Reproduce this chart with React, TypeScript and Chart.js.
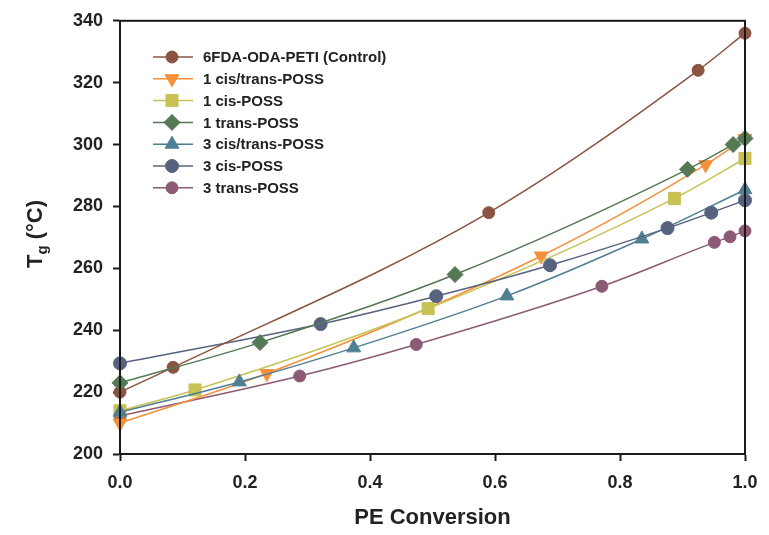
import React, { useEffect, useRef } from "react";
import { Chart, registerables } from "chart.js";

Chart.register(...registerables);

const seriesNames = [
  "6FDA-ODA-PETI (Control)",
  "1 cis/trans-POSS",
  "1 cis-POSS",
  "1 trans-POSS",
  "3 cis/trans-POSS",
  "3 cis-POSS",
  "3 trans-POSS",
];

const controlX = [0, 0.085, 0.59, 0.925, 1.0];
const controlY = [220, 228, 278, 324, 336];

const cisTrans1X = [0, 0.235, 0.674, 0.937, 1.0];
const cisTrans1Y = [210, 226, 264, 293.5, 302];

const cis1X = [0, 0.12, 0.493, 0.887, 1.0];
const cis1Y = [214, 220.7, 247, 282.6, 295.5];

const trans1X = [0, 0.224, 0.536, 0.908, 0.981, 1.0];
const trans1Y = [223, 236, 258, 292, 300, 302];

const cisTrans3X = [0, 0.191, 0.374, 0.619, 0.835, 1.0];
const cisTrans3Y = [213.5, 223.3, 234.3, 251.1, 269.5, 285.4];

const cis3X = [0, 0.321, 0.506, 0.688, 0.876, 0.946, 1.0];
const cis3Y = [229.3, 242, 251, 261, 273, 278, 282];

const trans3X = [0, 0.2875, 0.474, 0.771, 0.951, 0.976, 1.0];
const trans3Y = [212.3, 225.2, 235.4, 254.2, 268.4, 270.2, 272.1];

const xTicks = [0, 0.2, 0.4, 0.6, 0.8, 1.0];
const yTicks = [200, 220, 240, 260, 280, 300, 320, 340];

const xs = [controlX, cisTrans1X, cis1X, trans1X, cisTrans3X, cis3X, trans3X];
const ys = [controlY, cisTrans1Y, cis1Y, trans1Y, cisTrans3Y, cis3Y, trans3Y];

const colors = ["#8B5440", "#F5913A", "#C8C255", "#547954", "#4F7F93", "#56627E", "#8C5A74"];
const styles: any[] = ["circle", "triangle", "rect", "rectRot", "triangle", "circle", "circle"];
const rotations = [0, 180, 0, 0, 0, 0, 0];
const radii = [6, 8, 8.5, 8, 8, 6.5, 6];
const drawOrder = [1, 4, 3, 0, 2, 1, 5];

const FONT = "'Liberation Sans', Arial, sans-serif";

function drawMarker(ctx: CanvasRenderingContext2D, style: string, rot: number, r: number, x: number, y: number) {
  ctx.save();
  ctx.translate(x, y);
  ctx.rotate((rot * Math.PI) / 180);
  ctx.beginPath();
  if (style === "circle") {
    ctx.arc(0, 0, r, 0, Math.PI * 2);
  } else if (style === "triangle") {
    const side = (3 * r) / Math.sqrt(3);
    const height = (side * Math.sqrt(3)) / 2;
    ctx.moveTo(-side / 2, height / 3);
    ctx.lineTo(side / 2, height / 3);
    ctx.lineTo(0, (-2 * height) / 3);
    ctx.closePath();
  } else if (style === "rect") {
    const s = r * Math.SQRT1_2;
    ctx.rect(-s, -s, 2 * s, 2 * s);
  } else if (style === "rectRot") {
    ctx.moveTo(0, -r);
    ctx.lineTo(r, 0);
    ctx.lineTo(0, r);
    ctx.lineTo(-r, 0);
    ctx.closePath();
  }
  ctx.fill();
  ctx.stroke();
  ctx.restore();
}

const framePlugin = {
  id: "frame",
  afterDraw(chart: any) {
    const { ctx, chartArea } = chart;
    ctx.save();
    ctx.strokeStyle = "#1a1a1a";
    ctx.lineWidth = 2;
    ctx.strokeRect(chartArea.left, chartArea.top, chartArea.right - chartArea.left, chartArea.bottom - chartArea.top);

    // legend
    const lx1 = 153, lx2 = 193, mx = 172, tx = 203;
    const y0 = 57, dy = 21.8;
    chart.data.datasets.forEach((ds: any, i: number) => {
      const y = y0 + i * dy;
      ctx.strokeStyle = ds.borderColor;
      ctx.lineWidth = 1.5;
      ctx.beginPath();
      ctx.moveTo(lx1, y);
      ctx.lineTo(lx2, y);
      ctx.stroke();
      ctx.fillStyle = ds.pointBackgroundColor;
      ctx.strokeStyle = ds.pointBackgroundColor;
      ctx.lineWidth = 1;
      drawMarker(ctx, ds.pointStyle, ds.pointRotation, ds.pointRadius, mx, y);
      ctx.fillStyle = "#222";
      ctx.font = `bold 15px ${FONT}`;
      ctx.textAlign = "left";
      ctx.textBaseline = "middle";
      ctx.fillText(ds.label, tx, y + 1);
    });

    // y title with subscript
    ctx.fillStyle = "#222";
    ctx.translate(35, 234);
    ctx.rotate(-Math.PI / 2);
    ctx.textBaseline = "alphabetic";
    ctx.textAlign = "left";
    ctx.font = `bold 22px ${FONT}`;
    const tW = ctx.measureText("T").width;
    ctx.font = `bold 15px ${FONT}`;
    const gW = ctx.measureText("g").width;
    ctx.font = `bold 22px ${FONT}`;
    const rest = " (°C)";
    const rW = ctx.measureText(rest).width;
    const total = tW + gW + rW;
    let x = -total / 2;
    ctx.fillText("T", x, 7);
    x += tW;
    ctx.font = `bold 15px ${FONT}`;
    ctx.fillText("g", x, 12);
    x += gW;
    ctx.font = `bold 22px ${FONT}`;
    ctx.fillText(rest, x, 7);
    ctx.restore();
  },
};

export default function App() {
  const ref = useRef<HTMLCanvasElement>(null);
  useEffect(() => {
    if (!ref.current) return;
    const datasets = seriesNames.map((name, i) => ({
      label: name,
      data: xs[i].map((x, j) => ({ x, y: ys[i][j] })),
      borderColor: colors[i],
      backgroundColor: colors[i],
      pointBackgroundColor: colors[i],
      pointBorderColor: colors[i],
      pointStyle: styles[i],
      pointRotation: rotations[i],
      pointRadius: radii[i],
      pointBorderWidth: 1,
      borderWidth: 1.5,
      tension: 0.3,
      cubicInterpolationMode: "monotone" as const,
      showLine: true,
      order: drawOrder[i],
      clip: false as any,
    }));
    const chart = new Chart(ref.current, {
      type: "scatter",
      data: { datasets },
      options: {
        animation: false,
        responsive: false,
        layout: { padding: { top: 16, right: 24, left: 0, bottom: 0 } },
        plugins: { legend: { display: false }, tooltip: { enabled: false } },
        scales: {
          x: {
            type: "linear",
            min: 0,
            max: 1,
            afterBuildTicks: (s: any) => { s.ticks = xTicks.map((v) => ({ value: v })); },
            afterFit: (s: any) => { s.height = 81; },
            grid: { drawOnChartArea: false, drawTicks: true, tickLength: 7, tickColor: "#1a1a1a", tickWidth: 2 },
            border: { display: true, color: "#1a1a1a", width: 2 },
            ticks: {
              color: "#222",
              font: { family: FONT, size: 18, weight: "bold" },
              padding: 11,
              callback: (v: any) => Number(v).toFixed(1),
              maxRotation: 0,
            },
            title: {
              display: true,
              text: "PE Conversion",
              color: "#222",
              font: { family: FONT, size: 22, weight: "bold" },
              padding: { top: 15 },
            },
          },
          y: {
            type: "linear",
            min: 200,
            max: 340,
            afterBuildTicks: (s: any) => { s.ticks = yTicks.map((v) => ({ value: v })); },
            afterFit: (s: any) => { s.width = 120; },
            grid: { drawOnChartArea: false, drawTicks: true, tickLength: 7, tickColor: "#1a1a1a", tickWidth: 2 },
            border: { display: true, color: "#1a1a1a", width: 2 },
            ticks: {
              color: "#222",
              font: { family: FONT, size: 18, weight: "bold" },
              padding: 10,
            },
          },
        },
      },
      plugins: [framePlugin],
    });
    return () => chart.destroy();
  }, []);
  return (
    <div style={{ position: "fixed", left: 0, top: 0, width: 769, height: 535, background: "#fff" }}>
      <canvas ref={ref} width={769} height={535} />
    </div>
  );
}
